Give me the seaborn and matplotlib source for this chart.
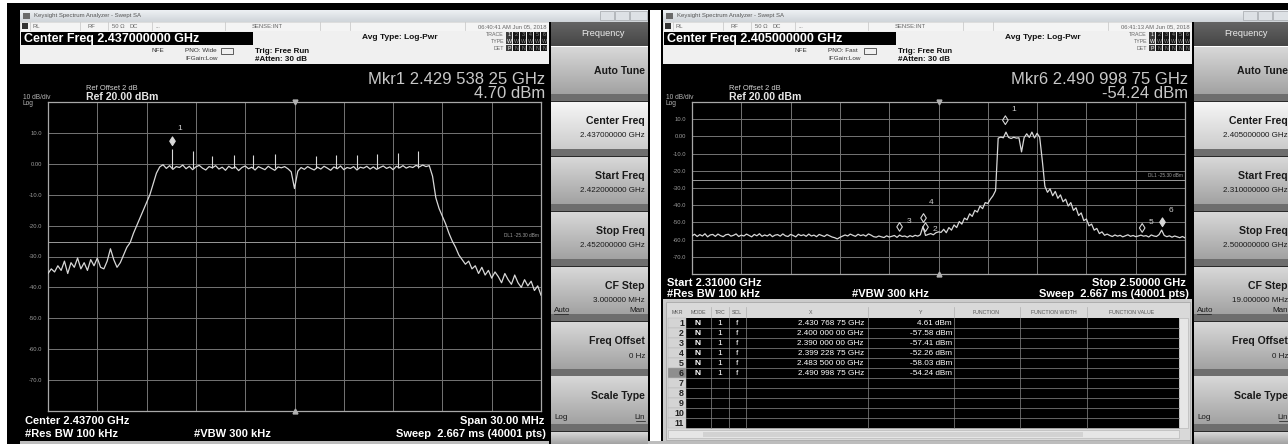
import numpy as np
import matplotlib
matplotlib.use("Agg")
import matplotlib.pyplot as plt
import seaborn as sns
from matplotlib.patches import Rectangle
from matplotlib.path import Path
from matplotlib.colors import to_rgb

plt.rcParams["font.family"] = ["Liberation Sans", "DejaVu Sans"]

# ================================
# Data read off the two analyzer screens
# ================================
ref_level = 20.0          # dBm at top graticule line
db_per_div = 10.0
display_line = -25.30     # DL1
y_tick_labels = ["", "10.0", "0.00", "-10.0", "-20.0", "-30.0",
                 "-40.0", "-50.0", "-60.0", "-70.0", ""]

# left screen: 2.422 - 2.452 GHz, one value every 0.2 MHz
left_start, left_stop, left_center = 2.422, 2.452, 2.437
left_trace = [
    -35.5, -34.0, -35.0, -33.0, -34.5, -31.5, -35.5, -32.0, -33.5, -30.5,
    -34.0, -32.0, -34.5, -31.0, -33.0, -30.5, -33.5, -34.0, -31.5, -27.5,
    -31.0, -33.5, -32.0, -29.5, -27.0, -25.5, -22.5, -20.0, -17.5, -15.0,
    -12.5, -10.0, -6.5, -3.0, -1.0, -0.3, -1.5, -0.6, -1.8, -0.9,
    -1.2, -0.4, -1.6, -0.8, -1.9, -1.0, -0.5, -1.4, -2.0, -0.9,
    -1.3, -0.6, -1.7, -1.1, -2.1, -0.8, -1.5, -1.0, -2.2, -1.2,
    -0.7, -1.6, -1.1, -2.0, -0.9, -1.4, -1.9, -0.8, -1.5, -2.1,
    -1.0, -1.3, -0.9, -1.6, -2.6, -8.0, -2.4, -1.2, -1.8, -0.9,
    -1.5, -2.0, -1.1, -1.7, -0.8, -1.4, -2.1, -1.0, -1.6, -0.7,
    -1.9, -1.2, -1.5, -0.9, -2.0, -1.1, -1.4, -0.8, -1.7, -1.0,
    -1.8, -1.2, -0.7, -1.5, -1.0, -1.9, -0.8, -1.3, -0.6, -1.4,
    -0.9, -1.2, -0.5, -1.0, -0.4, -0.9, -0.6, -4.0, -11.0, -14.5,
    -17.0, -19.5, -22.5, -25.0, -27.0, -29.5, -31.0, -32.5, -31.5, -34.0,
    -33.0, -35.5, -33.5, -36.0, -34.5, -37.0, -35.0, -36.5, -38.5, -35.5,
    -37.5, -39.0, -36.0, -38.5, -40.0, -37.5, -39.5, -38.0, -41.0, -39.5,
    -42.5,
]
# narrow pilot spikes on top of the in-band plateau
left_pilot_freq = [2.42954, 2.4308, 2.4320, 2.4333, 2.4345, 2.4358,
                   2.4383, 2.4395, 2.4408, 2.4420, 2.4433, 2.4445]
left_pilot_peak = [4.70, 4.0, 2.5, 3.0, 2.8, 3.2, 2.6, 3.0, 2.9, 3.2, 3.6, 4.3]
left_mkr_num = [1]
left_mkr_freq = [2.42953825]
left_mkr_level = [4.70]

# right screen: 2.310 - 2.500 GHz, one value every 1 MHz
right_start, right_stop, right_center = 2.310, 2.500, 2.405
right_trace = [
    -57.8, -56.9, -58.2, -57.1, -57.9, -56.6, -58.4, -57.3, -57.0, -58.1,
    -56.8, -57.7, -58.3, -57.2, -56.9, -58.0, -57.5, -56.7, -58.2, -57.4,
    -57.9, -56.8, -57.6, -58.4, -57.0, -57.8, -56.6, -58.1, -57.3, -57.9,
    -56.9, -58.3, -57.4, -57.1, -58.0, -56.7, -57.8, -58.2, -57.0, -57.6,
    -58.4, -56.9, -57.7, -57.2, -58.1, -56.8, -57.9, -57.4, -58.3, -57.0,
    -57.6, -58.2, -57.1, -57.8, -58.5, -58.9, -59.6, -58.7, -58.0, -57.3,
    -57.9, -56.8, -57.5, -58.1, -56.9, -57.7, -57.2, -58.0, -56.7, -57.4,
    -58.3, -58.6, -57.9, -58.4, -58.8, -57.8, -58.5, -58.1, -57.6, -58.7,
    -57.4, -58.2, -57.9, -58.6, -57.7, -58.3, -57.5, -58.0, -57.2, -52.5,
    -57.6, -57.0, -56.5, -57.2, -56.0, -55.5, -55.8,
    -54.0, -56.0, -53.0, -54.5, -51.5, -53.0, -49.5, -51.0, -47.5, -48.5,
    -45.0, -46.5, -43.0, -44.0, -40.5, -42.0, -38.5, -39.0, -36.5, -34.5,
    -31.5,
    -1.0, -0.4, -0.8, 2.5, -0.6, -1.2, -0.5, -1.0, -0.8, -9.0,
    -0.7, 1.5, -0.6, 2.5, -0.9, 1.8, -0.5,
    -14.0, -29.0, -32.5, -30.5, -34.5, -32.0, -36.0, -34.0, -38.0, -36.5,
    -40.5, -38.5, -43.0, -41.5, -46.0, -44.5, -49.0, -48.0, -52.0, -51.0,
    -54.5, -53.5, -56.5, -55.5, -57.5, -56.8,
    -57.6, -58.2, -57.3, -58.0, -57.5, -58.4, -57.8, -57.2, -58.1, -57.6,
    -58.3, -57.9, -57.4, -58.0, -57.7, -58.5, -57.3, -57.9, -58.2, -57.1,
    -54.5, -57.6, -58.3, -57.8, -58.6, -57.9, -58.4, -58.9, -58.2, -59.0,
]
right_mkr_num = [1, 2, 3, 4, 5, 6]
right_mkr_freq = [2.43076875, 2.400, 2.390, 2.39922875, 2.4835, 2.49099875]
right_mkr_level = [4.61, -57.58, -57.41, -52.26, -58.03, -54.24]

left_keys = ["2.437000000 GHz", "2.422000000 GHz", "2.452000000 GHz", "3.000000 MHz"]
right_keys = ["2.405000000 GHz", "2.310000000 GHz", "2.500000000 GHz", "19.000000 MHz"]

# ================================
# Canvas helpers (pixel coordinates, y down)
# ================================
W, H = 1288, 444
fig = plt.figure(figsize=(W / 100, H / 100), dpi=100)
bg = fig.add_axes([0, 0, 1, 1])
bg.set_xlim(0, W)
bg.set_ylim(H, 0)
bg.axis("off")

TRACE_C = "#d8d8d8"
GRID_C = "#747474"


def rect(x0, y0, x1, y1, fc, ec="none", lw=0, z=1):
    bg.add_patch(Rectangle((x0, y0), x1 - x0, y1 - y0, fc=fc, ec=ec, lw=lw, zorder=z))


def grad(x0, y0, x1, y1, c0, c1, z=1):
    t = np.linspace(0, 1, 48)[:, None]
    img = (np.array(to_rgb(c0)) * (1 - t) + np.array(to_rgb(c1)) * t)[:, None, :]
    bg.imshow(img, extent=[x0, x1, y1, y0], aspect="auto", interpolation="bilinear", zorder=z)


def txt(x, y, s, size, color="#111111", ha="left", weight="normal", z=6):
    bg.text(x, y, s, fontsize=size, color=color, ha=ha, va="center",
            fontweight=weight, zorder=z)


def px_axes(x0, y0, x1, y1):
    return fig.add_axes([x0 / W, 1 - y1 / H, (x1 - x0) / W, (y1 - y0) / H])


# diamond sitting just above the marker point
DIAMOND = Path([(0, 0.45), (0.32, 0.95), (0, 1.45), (-0.32, 0.95), (0, 0.45)],
               [Path.MOVETO, Path.LINETO, Path.LINETO, Path.LINETO, Path.CLOSEPOLY])

# ================================
# Outer frame
# ================================
rect(0, 0, W, H, "white", z=0)
rect(7, 3, W, 10, "black", z=0)
rect(7, 3, 20, H, "black", z=0)
rect(648, 3, 650, H, "black", z=0)
rect(661, 3, 663, H, "black", z=0)
rect(20, 441, W, H, "#bdbdbd", z=0)


def window(wx, plot_bottom, center_txt, pno_txt, time_txt, keys):
    # title bar
    grad(wx, 10, wx + 628, 22, "#eef1f4", "#cfd4d9")
    rect(wx + 3, 13, wx + 10, 19, "#6a6a6a", z=2)
    txt(wx + 14, 16, "Keysight Spectrum Analyzer - Swept SA", 4.3, "#555555")
    for bx0, bx1 in [(wx + 580, wx + 594), (wx + 595, wx + 609), (wx + 610, wx + 627)]:
        rect(bx0, 11.5, bx1, 20, "#dde1e5", ec="#a4a8ac", lw=0.5, z=2)
    # status row
    rect(wx, 22, wx + 531, 31, "#f4f4f4", ec="#c8c8c8", lw=0.4)
    rect(wx + 2, 23.5, wx + 8, 29.5, "#333333", z=2)
    for sx in [wx + 10, wx + 60, wx + 88, wx + 132, wx + 205, wx + 300, wx + 330, wx + 445]:
        bg.plot([sx, sx], [22.5, 30.5], color="#c4c4c4", lw=0.5, zorder=2)
    for sx, s in [(wx + 13, "RL"), (wx + 68, "RF"), (wx + 92, "50 \u03a9"), (wx + 110, "DC"),
                  (wx + 135, "..."), (wx + 232, "SENSE:INT")]:
        txt(sx, 26.5, s, 4.2, "#666666")
    txt(wx + 527, 26.5, time_txt, 4.2, "#666666", ha="right")
    # header strip
    rect(wx, 31, wx + 531, 64, "#f0f0f0")
    rect(wx + 1, 32, wx + 233, 45, "black", z=2)
    txt(wx + 4, 38.8, center_txt, 9, "white", weight="bold")
    txt(wx + 132, 51, "NFE", 4.6, "#333333")
    txt(wx + 165, 51, pno_txt, 4.6, "#333333")
    txt(wx + 165, 58.5, "IFGain:Low", 4.6, "#333333")
    rect(wx + 201, 48.5, wx + 213, 54.5, "none", ec="#444444", lw=0.6, z=3)
    txt(wx + 235, 51.5, "Trig: Free Run", 5.8, "#111111", weight="bold")
    txt(wx + 235, 59.5, "#Atten: 30 dB", 5.8, "#111111", weight="bold")
    txt(wx + 342, 37.5, "Avg Type: Log-Pwr", 6.0, "#111111", weight="bold")
    for ty, lab, row in [(35, "TRACE", "123456"), (41.5, "TYPE", "WWWWWW"), (48, "DET", "PNNNNN")]:
        txt(wx + 484, ty, lab, 3.8, "#666666", ha="right")
        for k, ch in enumerate(row):
            rect(wx + 486 + 7 * k, ty - 3, wx + 492.5 + 7 * k, ty + 3,
                 "#3c3c3c" if k == 0 else "#151515", z=2)
            txt(wx + 489.2 + 7 * k, ty, ch, 3.8, "white" if k == 0 else "#8a8a8a", ha="center")
    # black plot region
    rect(wx, 64, wx + 531, plot_bottom, "black")
    txt(wx + 3, 97, "10 dB/div", 4.8, "#b4b4b4")
    txt(wx + 3, 103.5, "Log", 4.8, "#b4b4b4")
    txt(wx + 66, 89, "Ref Offset 2 dB", 5.4, "#d4d4d4")
    txt(wx + 66, 97, "Ref 20.00 dBm", 7.6, "#e6e6e6", weight="bold")
    # softkey panel
    x0, x1 = wx + 531, wx + 628
    rect(x0 - 2, 22, x0, H, "black", z=2)
    grad(x0, 22, x1, 46, "#646464", "#464646")
    txt((x0 + x1) / 2 + 4, 34, "Frequency", 6.6, "#ececec", ha="center")
    titles = ["Auto Tune", "Center Freq", "Start Freq", "Stop Freq",
              "CF Step", "Freq Offset", "Scale Type", ""]
    for k, title in enumerate(titles):
        top = 47 + 55 * k
        bot = top + 55
        light = k == 1
        grad(x0, top, x1, min(bot - 8, H), "#f6f6f6" if light else "#d8d8d8",
             "#cccccc" if light else "#a2a2a2")
        if bot - 8 < H:
            rect(x0, bot - 8, x1, bot - 1, "#6e6e6e")
            rect(x0, bot - 1, x1, bot, "#2a2a2a")
        tx = x1 - 3
        if k == 0:
            txt(tx, top + 24, title, 7.6, "#1a1a1a", ha="right", weight="bold")
        elif title:
            txt(tx, top + 19, title, 7.6, "#1a1a1a", ha="right", weight="bold")
        if 1 <= k <= 4:
            txt(tx, top + 33, keys[k - 1], 5.8, "#1a1a1a", ha="right")
        if k == 4:
            txt(tx, top + 43, "Man", 5.8, "#1a1a1a", ha="right")
            txt(x0 + 3, top + 43, "Auto", 5.8, "#1a1a1a")
            bg.plot([x0 + 3, x0 + 17], [top + 47, top + 47], color="#1a1a1a", lw=0.5, zorder=6)
        if k == 5:
            txt(tx, top + 34, "0 Hz", 5.8, "#1a1a1a", ha="right")
        if k == 6:
            txt(x0 + 3, top + 40, "Log", 5.8, "#1a1a1a")
            txt(tx, top + 40, "Lin", 5.8, "#1a1a1a", ha="right")
            bg.plot([tx - 9, tx], [top + 44, top + 44], color="#1a1a1a", lw=0.5, zorder=6)


def spectrum(ax, start, stop, center, trace, mk_num, mk_freq, mk_level, active, label_off):
    freqs = np.linspace(start, stop, len(trace))
    ax.set_facecolor("black")
    sns.lineplot(x=freqs, y=trace, ax=ax, color=TRACE_C, linewidth=0.9, zorder=3)
    ax.set_xlim(start, stop)
    ax.set_ylim(ref_level - 10 * db_per_div, ref_level)
    ax.set_xticks(np.linspace(start, stop, 11))
    ax.set_yticks(ref_level - db_per_div * np.arange(11))
    ax.set_yticklabels(y_tick_labels)
    ax.grid(True, color=GRID_C, linewidth=0.7)
    ax.set_axisbelow(True)
    ax.tick_params(length=0, labelbottom=False, labelsize=4.2, labelcolor="#9c9c9c", pad=4)
    for sp in ax.spines.values():
        sp.set_color("#a8a8a8")
        sp.set_linewidth(0.9)
    ax.axhline(display_line, color="#9a9a9a", lw=0.7, zorder=2)
    ax.text(0.995, display_line + 1.2, "DL1 -25.30 dBm", transform=ax.get_yaxis_transform(),
            ha="right", va="bottom", fontsize=3.4, color="#a0a0a0")
    ax.plot([center], [ref_level], marker="v", ms=3.5, color="#b0b0b0", clip_on=False, zorder=4)
    ax.plot([center], [ref_level - 10 * db_per_div], marker="^", ms=3.5, color="#b0b0b0",
            clip_on=False, zorder=4)
    on = [i for i, n in enumerate(mk_num) if n == active]
    off = [i for i, n in enumerate(mk_num) if n != active]
    for idx, fc in [(off, "none"), (on, TRACE_C)]:
        if idx:
            sns.scatterplot(x=[mk_freq[i] for i in idx], y=[mk_level[i] for i in idx], ax=ax,
                            marker=DIAMOND, s=330, facecolor=fc, edgecolor=TRACE_C,
                            linewidth=0.8, zorder=5, legend=False, clip_on=False)
    for n, f, lv, off_xy in zip(mk_num, mk_freq, mk_level, label_off):
        ax.annotate(str(n), (f, lv), xytext=off_xy, textcoords="offset points",
                    fontsize=6, color="#d0d0d0", ha="left", va="center")
    ax.set_xlabel("")
    ax.set_ylabel("")


def fmt_ghz(f):
    s = f"{f:.8f}"
    return f"{s[:5]} {s[5:8]} {s[8:]} GHz"


# ================================
# Left window
# ================================
wx = 20
window(wx, 441, "Center Freq 2.437000000 GHz", "PNO: Wide", "06:40:41 AM Jun 05, 2018", left_keys)
txt(wx + 525, 80, f"Mkr1 {fmt_ghz(left_mkr_freq[0])}", 12, "#c8c8c8", ha="right")
txt(wx + 525, 94, f"{left_mkr_level[0]:.2f} dBm", 12, "#c8c8c8", ha="right")
axl = px_axes(wx + 28, 102, wx + 521, 411)
spectrum(axl, left_start, left_stop, left_center, left_trace,
         left_mkr_num, left_mkr_freq, left_mkr_level, 1, [(4, 15)])
axl.vlines(left_pilot_freq, -1.2, left_pilot_peak, color=TRACE_C, lw=0.8, zorder=3)
txt(wx + 5, 421, "Center 2.43700 GHz", 8, "white", weight="bold")
txt(wx + 5, 434, "#Res BW 100 kHz", 8, "white", weight="bold")
txt(wx + 212, 434, "#VBW 300 kHz", 8, "white", ha="center", weight="bold")
txt(wx + 524, 421, "Span 30.00 MHz", 8, "white", ha="right", weight="bold")
txt(wx + 526, 434, "Sweep  2.667 ms (40001 pts)", 8, "white", ha="right", weight="bold")

# ================================
# Right window
# ================================
wx = 663
window(wx, 299, "Center Freq 2.405000000 GHz", "PNO: Fast", "06:41:13 AM Jun 05, 2018", right_keys)
txt(wx + 525, 80, f"Mkr6 {fmt_ghz(right_mkr_freq[5])}", 12, "#c8c8c8", ha="right")
txt(wx + 525, 94, f"{right_mkr_level[5]:.2f} dBm", 12, "#c8c8c8", ha="right")
axr = px_axes(wx + 29, 102, wx + 522, 274)
spectrum(axr, right_start, right_stop, right_center, right_trace,
         right_mkr_num, right_mkr_freq, right_mkr_level, 6,
         [(4, 14), (5, 4), (5, 10), (4, 17), (5, 10), (5, 14)])
txt(wx + 4, 283, "Start 2.31000 GHz", 8, "white", weight="bold")
txt(wx + 4, 294, "#Res BW 100 kHz", 8, "white", weight="bold")
txt(wx + 227, 294, "#VBW 300 kHz", 8, "white", ha="center", weight="bold")
txt(wx + 523, 283, "Stop 2.50000 GHz", 8, "white", ha="right", weight="bold")
txt(wx + 526, 294, "Sweep  2.667 ms (40001 pts)", 8, "white", ha="right", weight="bold")

# marker table
rect(wx, 299, wx + 529, 441, "#cbcbcb")
rect(wx + 3, 302, wx + 527, 440, "#d9d9d9", ec="#a0a0a0", lw=0.5)
cols = [wx + 23, wx + 48, wx + 66, wx + 83, wx + 205, wx + 291, wx + 357, wx + 424, wx + 516]
heads = [(wx + 14, "MKR"), (wx + 35, "MODE"), (wx + 57, "TRC"), (wx + 74, "SCL"),
         (wx + 148, "X"), (wx + 258, "Y"), (wx + 323, "FUNCTION"),
         (wx + 391, "FUNCTION WIDTH"), (wx + 469, "FUNCTION VALUE")]
for hx, s in heads:
    txt(hx, 312, s, 3.8, "#555555", ha="center")
for cx in cols[1:-1]:
    bg.plot([cx, cx], [307, 317], color="#b0b0b0", lw=0.5, zorder=2)
rect(cols[0], 318, cols[-1], 428, "black", z=2)
rect(cols[-1], 318, cols[-1] + 9, 428, "#e6e6e6", ec="#b0b0b0", lw=0.4, z=2)
rect(wx + 5, 430, cols[-1], 438, "#e6e6e6", ec="#b0b0b0", lw=0.4, z=2)
rect(wx + 40, 431.5, wx + 420, 436.5, "#d2d2d2", z=3)
for r in range(11):
    y0 = 318 + 10 * r
    rect(wx + 5, y0, cols[0], y0 + 10, "#8e8e8e" if r == 5 else "#d4d4d4", ec="#b4b4b4", lw=0.3, z=2)
    txt(cols[0] - 2, y0 + 5.3, str(r + 1), 6.4, "#222222", ha="right", weight="bold")
    bg.plot([cols[0], cols[-1]], [y0 + 10, y0 + 10], color="#8a8a8a", lw=0.5, zorder=3)
for cx in cols[1:-1]:
    bg.plot([cx, cx], [318, 428], color="#8a8a8a", lw=0.5, zorder=3)
for r, (n, f, lv) in enumerate(zip(right_mkr_num, right_mkr_freq, right_mkr_level)):
    yc = 323.3 + 10 * r
    txt(wx + 35, yc, "N", 6, "white", ha="center", weight="bold")
    txt(wx + 57, yc, "1", 6, "white", ha="center")
    txt(wx + 74.5, yc, "f", 6, "white", ha="center")
    txt(cols[4] - 4, yc, fmt_ghz(f), 5.9, "white", ha="right")
    txt(cols[5] - 2, yc, f"{lv:.2f} dBm", 5.9, "white", ha="right")

bg.set_xlim(0, W)
bg.set_ylim(H, 0)
fig.savefig("out.png", dpi=100, facecolor="white")
